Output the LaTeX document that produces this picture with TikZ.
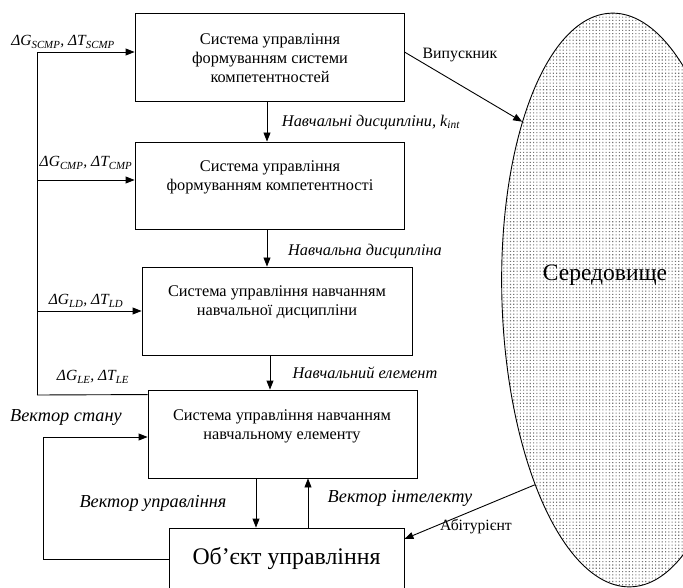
\documentclass[tikz,border=0pt]{standalone}
\usepackage{fontspec}
\setmainfont{Liberation Serif}
\usetikzlibrary{arrows.meta,shapes.geometric}

\newcommand{\dgt}[1]{\textit{ΔG\textsubscript{#1}, ΔT\textsubscript{#1}}}

\begin{document}
\begin{tikzpicture}[x=1pt,y=-1pt,line width=0.9pt,
		>={Triangle[length=9pt,width=7pt]},
		box/.style={draw,inner sep=0pt,minimum width=269pt,minimum height=88pt},
		boxtext/.style={align=center,font=\fontsize{16.3}{19}\selectfont},
		lbl/.style={font=\fontsize{16.3}{19}\selectfont\itshape},
		vlbl/.style={font=\fontsize{18.3}{21}\selectfont\itshape}]
		\useasboundingbox (0,0) rectangle (683,588);
		\clip (0,0) rectangle (683,588);
		% environment
		\begin{scope}
			\clip[rotate around={2:(621,300)}] (621,300) ellipse [x radius=119,y radius=287];
			\foreach \y in {10,13.3,...,590}
				\fill[black!55] foreach \x in {500,503.3,...,684} {(\x,\y) rectangle ++(1.1,1.1)};
		\end{scope}
		\node[ellipse,draw,rotate=2,inner sep=0pt,minimum width=238pt,minimum height=574pt] (env) at (621,300) {};
		\node[font=\fontsize{23.5}{28}\selectfont] (envtext) at (605,275) {Середовище};
		% boxes
		\node[box] (scmp) at (269.5,57) {};
		\node[boxtext] at (270,58) {Система управління\\формуванням системи\\компетентностей};
		\node[box,minimum height=87pt] (cmp) at (269.5,185.5) {};
		\node[boxtext] at (270,177) {Система управління\\формуванням компетентності};
		\node[box,minimum width=270pt] (ld) at (277,311) {};
		\node[boxtext] at (277,302) {Система управління навчанням\\навчальної дисципліни};
		\node[box] (le) at (282.5,434) {};
		\node[boxtext] at (282,426) {Система управління навчанням\\навчальному елементу};
		\node[draw,fill=white,inner sep=0pt,minimum width=235pt,minimum height=62pt,
			font=\fontsize{23.8}{28}\selectfont] (obj) at (286.5,559) {Об’єкт управління};
		% chain down
		\draw[->] ([xshift=-2.5pt]scmp.south) -- ([xshift=-2.5pt]cmp.north);
		\draw[->] ([xshift=-2.5pt]cmp.south) -- ([xshift=-2.5pt]cmp.south |- ld.north);
		\draw[->] ([xshift=-7pt]ld.south) -- ([xshift=-7pt]ld.south |- le.north);
		\node[lbl] at (371,122) {Навчальні дисципліни, \textit{k\textsubscript{int}}};
		\node[lbl] at (365,251) {Навчальна дисципліна};
		\node[lbl] at (365,373) {Навчальний елемент};
		% left bus
		\coordinate (bus) at (37,395);
		\draw (bus) -- ([yshift=-5pt]le.north west);
		\draw[->] (bus) |- ([yshift=5pt]scmp.west);
		\draw[->] (bus) |- ([yshift=5.5pt]cmp.west);
		\draw[->] (bus) |- (ld.west);
		\node[font=\fontsize{15.5}{18}\selectfont] at (63,42) {\dgt{SCMP}};
		\node[font=\fontsize{15.5}{18}\selectfont] at (86,163) {\dgt{CMP}};
		\node[font=\fontsize{15.5}{18}\selectfont] at (86,301) {\dgt{LD}};
		\node[font=\fontsize{15.5}{18}\selectfont] at (93,377) {\dgt{LE}};
		% control loop
		\draw[->] (obj.west) -- ++(-125,0) |- ([yshift=-3pt]le.west);
		\draw[->] ([xshift=-26.5pt]le.south) -- ([xshift=-26.5pt]le.south |- obj.north);
		\draw[->] ([xshift=21.5pt]obj.north) -- ([xshift=21.5pt]obj.north |- le.south);
		\node[vlbl] at (66,417) {Вектор стану};
		\node[vlbl] at (153,503) {Вектор управління};
		\node[vlbl] at (400,498) {Вектор інтелекту};
		% in and out
		\draw[->] ([yshift=5pt]scmp.east) -- (env.117);
		\draw[->] (env.243) -- ([yshift=20pt]obj.east);
		\node[font=\fontsize{15.8}{18}\selectfont] at (460,55) {Випускник};
		\node[font=\fontsize{15.7}{18}\selectfont] at (476,527) {Абітурієнт};
	\end{tikzpicture}
\end{document}
